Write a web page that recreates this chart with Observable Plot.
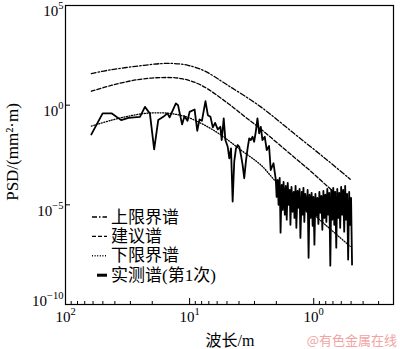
<!DOCTYPE html>
<html>
<head>
<meta charset="utf-8">
<script src="https://cdn.jsdelivr.net/npm/d3@7"></script>
<script src="https://cdn.jsdelivr.net/npm/@observablehq/plot@0.6"></script>
<style>
  html, body { margin: 0; padding: 0; background: #fff; }
  #chart { width: 400px; height: 349px; }
</style>
</head>
<body>
<div id="chart"></div>
<script>
// ---------- data (wavelength in m, PSD in mm^2·m) ----------
const upperWl  = [61.9, 42.3, 25.9, 16.8, 13.2, 10.3, 7.59, 4.93, 2.67, 1.445, 0.781, 0.508];
const upperPsd = [38.5, 61, 92, 122, 122, 100, 52, 10, 0.82, 0.0385, 1.78e-3, 1.93e-4];

const suggWl  = [61.9, 42.3, 25.9, 16.8, 11.65, 8.06, 4.93, 3.63, 2.67, 1.445, 1.063, 0.781, 0.508];
const suggPsd = [5.0, 10, 19.3, 24.3, 21.6, 10, 1.26, 0.28, 0.063, 2.5e-3, 5.0e-4, 8.9e-5, 8.9e-6];

const lowerWl  = [61.9, 42.3, 31.1, 22.9, 16.8, 13.2, 10.3, 7.59, 5.58, 3.86, 2.67, 1.96, 1.277, 0.806, 0.508];
const lowerPsd = [0.089, 0.178, 0.282, 0.385, 0.412, 0.355, 0.243, 0.1, 0.0316, 5.6e-3, 1e-3, 1.22e-4, 1.26e-5, 1e-6, 8.2e-8];

const measWl = [61.9, 50.2, 42.3, 35.6, 31.1, 25.1, 22.9, 20.9, 19.3, 17.9, 16.3, 15.1, 14.5, 12.9, 12.4, 11.5, 11.0, 10.4, 10.0, 9.12,
  8.68, 8.32, 7.96, 7.45, 7.13, 6.79, 6.5, 6.23, 5.93, 5.65, 5.51, 5.31, 5.15, 4.93, 4.79, 4.64, 4.5, 4.37, 4.23, 4.1,
  3.98, 3.86, 3.74, 3.63, 3.52, 3.41, 3.31, 3.21, 3.11, 3.02, 2.93, 2.84, 2.75, 2.67, 2.59, 2.48, 2.39, 2.29, 2.22, 2.11, 2.02,
  1.99, 1.95, 1.92, 1.88, 1.85, 1.81, 1.78, 1.75, 1.71, 1.68, 1.65, 1.62, 1.59, 1.56, 1.54, 1.51, 1.48, 1.45, 1.43, 1.40,
  1.38, 1.35, 1.33, 1.30, 1.28, 1.25, 1.23, 1.21, 1.19, 1.17, 1.14, 1.12, 1.10, 1.08, 1.06, 1.04, 1.02, 1.005, 0.987, 0.969,
  0.951, 0.934, 0.917, 0.900, 0.884, 0.868, 0.852, 0.836, 0.821, 0.806, 0.791, 0.777, 0.763, 0.749, 0.735, 0.722, 0.709, 0.696, 0.683, 0.671,
  0.658, 0.646, 0.635, 0.623, 0.612, 0.601, 0.590, 0.579, 0.568, 0.558, 0.548, 0.538, 0.528, 0.518, 0.509, 0.500, 0.491];
const measPsd = [0.034, 0.385, 0.385, 0.178, 0.232, 0.26, 0.82, 0.385, 0.0061, 0.178, 0.26, 0.385, 0.243, 1.22, 1.0, 0.108, 0.28, 0.164, 0.46, 0.61,
  0.052, 0.193, 0.164, 1.58, 0.316, 0.26, 0.077, 0.13, 0.061, 0.082, 0.0178, 0.216, 0.0178, 0.0082, 0.00216, 0.0068, 1.46e-5, 0.00146, 0.0068, 0.01,
  0.0082, 0.0032, 0.001, 2.16e-4, 0.00146, 0.0068, 0.0216, 0.0178, 0.026, 0.0146, 0.046, 0.216, 0.0385, 0.082, 0.0178, 0.026, 0.0056, 0.0089, 5.6e-4, 0.00122, 1.78e-4,
  2.5e-5, 1.78e-4, 1.0e-5, 2.24e-4, 4.0e-7, 1.0e-4, 5.6e-6, 1.41e-4, 3.2e-6, 8.9e-5, 1.8e-6, 1.26e-4, 1.0e-5, 5.6e-5, 1.0e-6, 7.9e-5, 4.5e-6, 4.5e-5, 2.2e-6, 8.9e-5,
  7.1e-7, 5.0e-5, 7.1e-6, 6.3e-5, 2.2e-7, 4.5e-5, 3.2e-6, 7.1e-5, 1.4e-6, 3.5e-5, 4.5e-6, 5.6e-5, 2.2e-8, 3.2e-5, 2.2e-6, 4.0e-5, 8.9e-7, 2.5e-5, 1.0e-7, 3.5e-5,
  2.8e-6, 2.2e-5, 1.1e-6, 4.5e-5, 4.0e-6, 2.8e-5, 5.6e-7, 5.0e-5, 2.2e-6, 3.2e-5, 1.4e-6, 6.3e-5, 3.2e-6, 4.0e-5, 8.9e-9, 5.6e-5, 1.8e-6, 7.1e-5, 1.0e-6, 4.5e-5,
  7.1e-8, 6.3e-5, 2.2e-6, 4.0e-5, 7.1e-7, 7.9e-5, 3.2e-6, 5.6e-5, 4.5e-7, 8.9e-5, 1.8e-6, 3.5e-5, 1.8e-8, 4.5e-5, 1.0e-6, 2.2e-5, 1.0e-8];

const xTicks = [100, 10, 1];
const xTickExp = ["2", "1", "0"];
const xMinor = [90, 80, 70, 60, 50, 40, 30, 20, 9, 8, 7, 6, 5, 4, 3, 2, 0.9, 0.8, 0.7, 0.6, 0.5, 0.4, 0.3];
const yTicks = [1e5, 1, 1e-5];
const yTickExp = ["5", "0", "\u22125"];
const yTicksLow = [1e-10];
const yTickExpLow = ["\u221210"];

const legendLabels = ["上限界谱", "建议谱", "下限界谱", "实测谱(第1次)"];
const xLabel = "波长/m";
const yLabel = "PSD/(mm\u00B2\u00B7m)";
const watermark = "@有色金属在线";

// ---------- build ----------
const zip = (a, b) => a.slice(0, Math.min(a.length, b.length)).map((v, i) => ({wl: v, psd: b[i]}));
const upper = zip(upperWl, upperPsd);
const sugg = zip(suggWl, suggPsd);
const lower = zip(lowerWl, lowerPsd);
const meas = zip(measWl, measPsd);

const serif = "Liberation Serif, Times New Roman, Noto Sans CJK SC, serif";
const styles = [
  {dash: "5,2,1.5,2", width: 1.3},
  {dash: "4,2", width: 1.3},
  {dash: "1,1.6", width: 1.3},
  {dash: null, width: 3}
];

const plot = Plot.plot({
  width: 400,
  height: 349,
  marginLeft: 65,
  marginRight: 7,
  marginTop: 5,
  marginBottom: 45,
  x: {type: "log", domain: [100, 0.2276], axis: null},
  y: {type: "log", domain: [1e-10, 1e5], axis: null},
  style: {fontFamily: serif, background: "white", color: "black"},
  marks: [
    Plot.line(upper, {x: "wl", y: "psd", stroke: "black", strokeWidth: 1.3, strokeDasharray: styles[0].dash, curve: "catmull-rom"}),
    Plot.line(sugg, {x: "wl", y: "psd", stroke: "black", strokeWidth: 1.3, strokeDasharray: styles[1].dash, curve: "catmull-rom"}),
    Plot.line(lower, {x: "wl", y: "psd", stroke: "black", strokeWidth: 1.3, strokeDasharray: styles[2].dash, curve: "catmull-rom"}),
    Plot.line(meas, {x: "wl", y: "psd", stroke: "black", strokeWidth: 1.8}),
    Plot.frame({stroke: "black", strokeWidth: 1.2}),
    Plot.tickX(xTicks, {x: d => d, insetTop: 293, stroke: "black", strokeWidth: 1}),
    Plot.tickX(xMinor, {x: d => d, insetTop: 296, stroke: "black", strokeWidth: 1}),
    Plot.tickY(yTicks.concat(yTicksLow), {y: d => d, insetRight: 323, stroke: "black", strokeWidth: 1}),
    Plot.text(xTicks, {x: d => d, frameAnchor: "bottom", lineAnchor: "top", dy: 7, text: (d, i) => xTickExp[i], fontSize: 15, fill: "black"}),
    Plot.text(yTicks, {y: d => d, frameAnchor: "left", textAnchor: "end", dx: -2, dy: 6, text: (d, i) => yTickExp[i], fontSize: 15, fill: "black"}),
    Plot.text(yTicksLow, {y: d => d, frameAnchor: "left", textAnchor: "end", dx: -2, dy: -3, text: (d, i) => yTickExpLow[i], fontSize: 15, fill: "black"})
  ]
});

document.getElementById("chart").appendChild(plot);

// superscript exponents on tick labels: "10" + raised exponent
// (at this point the only text elements in the plot are the tick labels)
const NS = "http://www.w3.org/2000/svg";
const expSet = new Set(xTickExp.concat(yTickExp, yTickExpLow));
Array.from(plot.querySelectorAll("text")).forEach(t => {
  const exp = t.textContent;
  if (!expSet.has(exp)) return;
  while (t.firstChild) t.removeChild(t.firstChild);
  t.appendChild(document.createTextNode("10"));
  const ts = document.createElementNS(NS, "tspan");
  ts.setAttribute("dy", "-7");
  ts.setAttribute("font-size", "10.5");
  ts.textContent = exp;
  t.appendChild(ts);
});

// extra texts: axis titles, legend, watermark
const svg = d3.select(plot);
svg.append("text")
  .attr("transform", "translate(12,152) rotate(-90)")
  .attr("text-anchor", "middle")
  .attr("dominant-baseline", "central")
  .attr("font-family", serif)
  .attr("font-size", 17)
  .attr("fill", "black")
  .text(yLabel);

svg.append("text")
  .attr("x", 230).attr("y", 346)
  .attr("text-anchor", "middle")
  .attr("font-family", serif)
  .attr("font-size", 16)
  .attr("fill", "black")
  .text(xLabel);

svg.append("text")
  .attr("x", 397).attr("y", 345)
  .attr("text-anchor", "end")
  .attr("font-family", "Noto Sans CJK SC, sans-serif")
  .attr("font-size", 13)
  .attr("fill", "#f2a3a3")
  .text(watermark);

const lg = svg.append("g").attr("aria-label", "legend");
legendLabels.forEach((lab, i) => {
  const cy = 217 + i * 19.4;
  const st = styles[i];
  const ln = lg.append("line")
    .attr("x1", i === 3 ? 97 : 92).attr("x2", 107)
    .attr("y1", cy).attr("y2", cy)
    .attr("stroke", "black").attr("stroke-width", i === 3 ? 3 : 1.4);
  if (st.dash) ln.attr("stroke-dasharray", st.dash);
  lg.append("text")
    .attr("x", 111).attr("y", cy)
    .attr("text-anchor", "start")
    .attr("dominant-baseline", "central")
    .attr("font-family", serif)
    .attr("font-size", 17)
    .attr("fill", "black")
    .text(lab);
});
</script>
</body>
</html>
